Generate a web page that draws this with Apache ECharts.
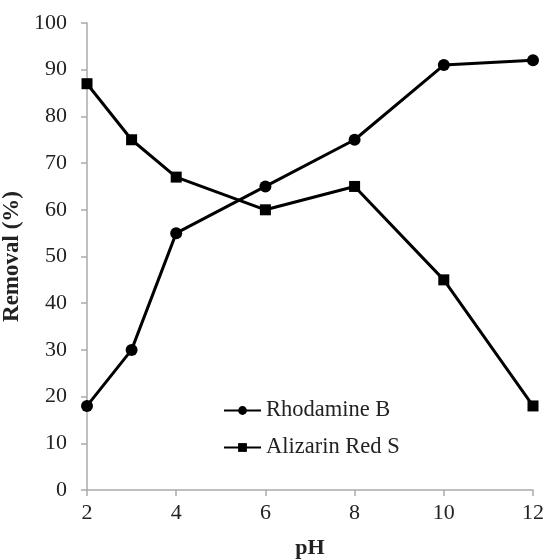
<!DOCTYPE html>
<html>
<head>
<meta charset="utf-8">
<script src="https://cdn.jsdelivr.net/npm/echarts@6/dist/echarts.min.js"></script>
<style>
html,body{margin:0;padding:0;background:#fff;}
#chart{width:546px;height:560px;}
</style>
</head>
<body>
<div id="chart"></div>
<script>
// pH values and removal percentages
const phValues = [2, 3, 4, 6, 8, 10, 12];
const rhodamineB = [18, 30, 55, 65, 75, 91, 92];
const alizarinRedS = [87, 75, 67, 60, 65, 45, 18];
const seriesNames = ['Rhodamine B', 'Alizarin Red S'];

const font = '"Liberation Serif", "Times New Roman", serif';
const chart = echarts.init(document.getElementById('chart'));

const pairs = (ys) => phValues.map((x, i) => [x, ys[i]]);

chart.setOption({
  animation: false,
  backgroundColor: '#fff',
  grid: { left: 87, right: 13, top: 23, bottom: 70, outerBoundsMode: 'none', containLabel: false },
  legend: {
    left: 218, top: 394, orient: 'vertical',
    itemWidth: 37, itemHeight: 11, itemGap: 14,
    textStyle: { fontFamily: font, fontSize: 22.5, color: '#222' },
    data: seriesNames
  },
  xAxis: {
    type: 'value', min: 2, max: 12, interval: 2,
    name: 'pH', nameLocation: 'middle', nameGap: 47,
    nameTextStyle: { fontFamily: font, fontSize: 22, fontWeight: 'bold', color: '#222' },
    axisLine: { lineStyle: { color: '#aaa', width: 1.5 } },
    axisTick: { show: true, length: 6, lineStyle: { color: '#aaa', width: 1.5 } },
    axisLabel: { fontFamily: font, fontSize: 22, color: '#222', margin: 12 },
    splitLine: { show: false }
  },
  yAxis: {
    type: 'value', min: 0, max: 100, interval: 10,
    name: 'Removal (%)', nameLocation: 'middle', nameGap: 50, nameRotate: 90,
    nameTextStyle: { fontFamily: font, fontSize: 23, fontWeight: 'bold', color: '#222' },
    axisLine: { show: true, lineStyle: { color: '#aaa', width: 1.5 } },
    axisTick: { show: true, length: 6, lineStyle: { color: '#aaa', width: 1.5 } },
    axisLabel: { fontFamily: font, fontSize: 22, color: '#222', margin: 20 },
    splitLine: { show: false }
  },
  series: [
    {
      name: seriesNames[0], type: 'line', data: pairs(rhodamineB),
      symbol: 'circle', symbolSize: 12,
      lineStyle: { color: '#000', width: 3 },
      itemStyle: { color: '#000' }
    },
    {
      name: seriesNames[1], type: 'line', data: pairs(alizarinRedS),
      symbol: 'rect', symbolSize: 11,
      lineStyle: { color: '#000', width: 3 },
      itemStyle: { color: '#000' }
    }
  ]
});
</script>
</body>
</html>
